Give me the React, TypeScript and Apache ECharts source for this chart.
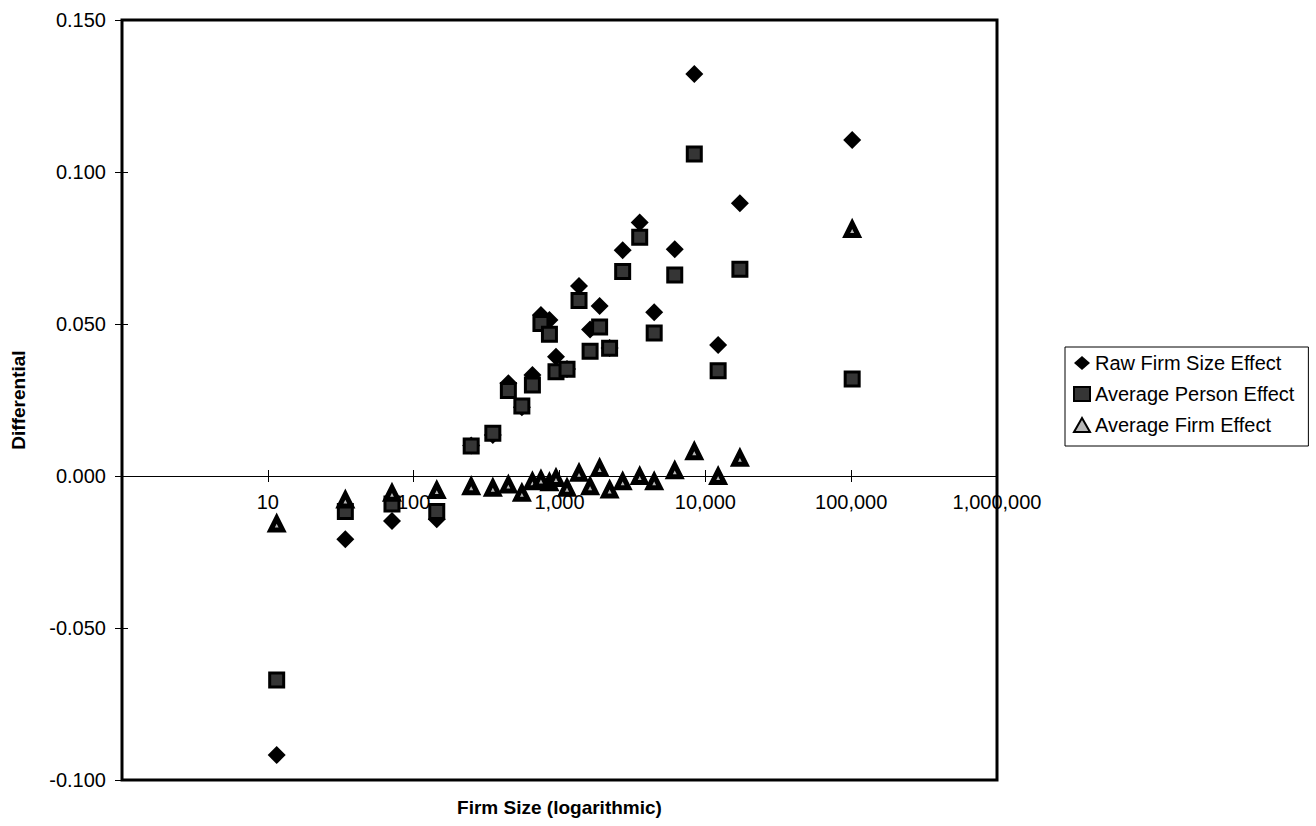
import React, { useEffect, useRef } from "react";
import * as echarts from "echarts";

// Firm size bins (number of employees, log scale)
const firmSizes = [11.5, 34, 71, 144, 248, 349, 446, 552, 652, 746, 853, 946, 1126, 1361, 1621, 1884, 2206, 2711, 3548, 4460, 6170, 8400, 12240, 17260, 101600];

const rawFirmSizeEffect = [-0.0918, -0.0208, -0.0148, -0.0142, 0.0100, 0.0135, 0.0305, 0.0226, 0.0332, 0.0530, 0.0513, 0.0392, 0.0352, 0.0625, 0.0482, 0.0559, 0.0421, 0.0743, 0.0834, 0.0539, 0.0746, 0.1322, 0.0431, 0.0897, 0.1105];

const averagePersonEffect = [-0.0671, -0.0117, -0.0092, -0.0117, 0.0099, 0.0141, 0.0281, 0.0230, 0.0299, 0.0502, 0.0466, 0.0343, 0.0351, 0.0577, 0.0410, 0.0490, 0.0420, 0.0673, 0.0785, 0.0470, 0.0661, 0.1059, 0.0346, 0.0680, 0.0319];

const averageFirmEffect = [-0.0158, -0.0079, -0.0057, -0.0048, -0.0035, -0.0040, -0.0030, -0.0057, -0.0019, -0.0013, -0.0022, -0.0008, -0.0040, 0.0009, -0.0035, 0.0025, -0.0046, -0.0019, -0.0002, -0.0019, 0.0017, 0.0080, -0.0002, 0.0058, 0.0811];

const seriesNames = ["Raw Firm Size Effect", "Average Person Effect", "Average Firm Effect"];
const xAxisTitle = "Firm Size (logarithmic)";
const yAxisTitle = "Differential";

const FONT = "'Liberation Sans', Arial, Helvetica, sans-serif";

const withCommas = (n: number) => String(n).replace(/\B(?=(\d{3})+(?!\d))/g, ",");

export default function App() {
  const ref = useRef<HTMLDivElement>(null);

  useEffect(() => {
    const chart = echarts.init(ref.current as HTMLDivElement, null, { renderer: "svg" });
    const pair = (ys: number[]) => firmSizes.map((x, i) => [x, ys[i]]);

    const logBase = {
      type: "log",
      logBase: 10,
      min: 1,
      max: 1000000,
      gridIndex: 0,
      splitLine: { show: false },
      minorTick: { show: false },
      minorSplitLine: { show: false },
    };
    const yBase = {
      type: "value",
      min: -0.1,
      max: 0.15,
      interval: 0.05,
      position: "left",
      splitLine: { show: false },
    };

    chart.setOption({
      animation: false,
      backgroundColor: "#ffffff",
      textStyle: { fontFamily: FONT, color: "#000" },
      grid: {
        left: 122,
        top: 20,
        right: 319,
        bottom: 46,
        show: true,
        borderColor: "#000",
        borderWidth: 3,
        backgroundColor: "transparent",
      },
      xAxis: [
        {
          ...logBase,
          position: "bottom",
          axisLine: { show: true, onZero: true, lineStyle: { color: "#000", width: 1 } },
          axisTick: { show: true, inside: false, length: 6, lineStyle: { color: "#000", width: 1 } },
          axisLabel: {
            show: true,
            margin: -288,
            color: "#000",
            fontSize: 20,
            fontFamily: FONT,
            formatter: (v: number) => {
              const r = Math.round(v);
              return r === 1 ? "" : withCommas(r);
            },
          },
        },
        {
          ...logBase,
          position: "bottom",
          axisLine: { show: false, onZero: true },
          axisTick: { show: true, inside: true, length: 6, lineStyle: { color: "#000", width: 1 } },
          axisLabel: { show: false },
        },
        {
          ...logBase,
          position: "bottom",
          axisLine: { show: false, onZero: false },
          axisTick: { show: false },
          axisLabel: { show: false },
          name: xAxisTitle,
          nameLocation: "middle",
          nameGap: 18,
          nameTextStyle: { fontWeight: "bold", fontSize: 19, color: "#000", fontFamily: FONT },
        },
      ],
      yAxis: [
        {
          ...yBase,
          axisLine: { show: false, onZero: false },
          axisTick: { show: true, inside: false, length: 7, lineStyle: { color: "#000", width: 1 } },
          axisLabel: {
            margin: 16,
            color: "#000",
            fontSize: 20,
            fontFamily: FONT,
            formatter: (v: number) => (Math.abs(v) < 1e-9 ? 0 : v).toFixed(3),
          },
          name: yAxisTitle,
          nameLocation: "middle",
          nameGap: 94,
          nameTextStyle: { fontWeight: "bold", fontSize: 19, color: "#000", fontFamily: FONT },
        },
        {
          ...yBase,
          axisLine: { show: false, onZero: false },
          axisTick: { show: true, inside: true, length: 6, lineStyle: { color: "#000", width: 1 } },
          axisLabel: { show: false },
        },
      ],
      legend: {
        orient: "vertical",
        left: 1065,
        top: 347,
        data: seriesNames,
        itemWidth: 16,
        itemHeight: 14,
        itemGap: 11,
        padding: [6, 14, 11, 8],
        borderColor: "#000",
        borderWidth: 1,
        backgroundColor: "#fff",
        textStyle: { fontSize: 20, color: "#000", fontFamily: FONT },
      },
      series: [
        {
          name: seriesNames[0],
          type: "scatter",
          xAxisIndex: 0,
          yAxisIndex: 0,
          symbol: "diamond",
          symbolSize: 18,
          itemStyle: { color: "#000", opacity: 1 },
          data: pair(rawFirmSizeEffect),
        },
        {
          name: seriesNames[1],
          type: "scatter",
          xAxisIndex: 0,
          yAxisIndex: 0,
          symbol: "rect",
          symbolSize: 14,
          itemStyle: { color: "#353535", borderColor: "#000", borderWidth: 3, opacity: 1 },
          data: pair(averagePersonEffect),
        },
        {
          name: seriesNames[2],
          type: "scatter",
          xAxisIndex: 0,
          yAxisIndex: 0,
          symbol: "triangle",
          symbolSize: 12,
          itemStyle: { color: "#b8b8b8", borderColor: "#000", borderWidth: 5, opacity: 1 },
          data: pair(averageFirmEffect),
        },
      ],
    });

    return () => {
      chart.dispose();
    };
  }, []);

  return (
    <div
      ref={ref}
      style={{ position: "fixed", left: 0, top: 0, width: 1316, height: 826, background: "#fff" }}
    />
  );
}
